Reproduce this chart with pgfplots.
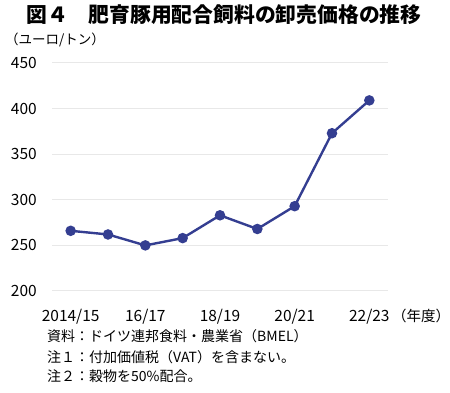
\documentclass[border=0pt]{standalone}
\usepackage{fontspec}
\setmainfont{Noto Sans CJK JP}
\usepackage{pgfplots}
\pgfplotsset{compat=1.18}
\definecolor{lineblue}{RGB}{52,62,145}
\definecolor{gridgray}{RGB}{232,232,232}
\begin{document}
\begin{tikzpicture}[x=1pt,y=1pt]
\path[use as bounding box] (-52,-102) rectangle (398,291);
\begin{axis}[
  at={(0,0)}, anchor=south west,
  scale only axis, width=336pt, height=228pt,
  xmin=-0.5, xmax=8.5, ymin=200, ymax=450,
  ytick={200,250,...,450},
  xtick={0,2,4,6,8},
  xticklabels={2014/15,16/17,18/19,20/21,22/23},
  axis line style={draw=none},
  major tick length=0pt,
  ymajorgrids, grid style={gridgray, line width=1pt},
  /pgf/number format/assume math mode=true,
  ticklabel style={font=\fontsize{15.5}{15.5}\selectfont, inner sep=0pt},
  yticklabel style={anchor=east, xshift=-15pt},
  xticklabel style={anchor=north, yshift=-18pt},
  clip=false,
]
\addplot[lineblue, line width=2.4pt, mark=*, mark size=4pt, mark options={solid, fill=lineblue, draw=none}]
  coordinates {(0,266) (1,262) (2,250) (3,258) (4,283) (5,268) (6,293) (7,373) (8,409)};
\end{axis}
\node[font=\fontsize{20.8}{20.8}\selectfont\bfseries] at (172,276) {図４　肥育豚用配合飼料の卸売価格の推移};
\node[anchor=west, inner sep=0pt, font=\fontsize{13.5}{13.5}\selectfont] at (-47,251) {（ユーロ/トン）};
\node[anchor=west, inner sep=0pt, font=\fontsize{14.5}{14.5}\selectfont] at (340,-25) {（年度）};
\node[anchor=west, inner sep=0pt, font=\fontsize{14}{14}\selectfont] at (-5,-45) {資料：ドイツ連邦食料・農業省（BMEL）};
\node[anchor=west, inner sep=0pt, font=\fontsize{14}{14}\selectfont] at (-5,-66) {注１：付加価値税（VAT）を含まない。};
\node[anchor=west, inner sep=0pt, font=\fontsize{14}{14}\selectfont] at (-5,-85) {注２：穀物を50\%配合。};
\end{tikzpicture}
\end{document}
